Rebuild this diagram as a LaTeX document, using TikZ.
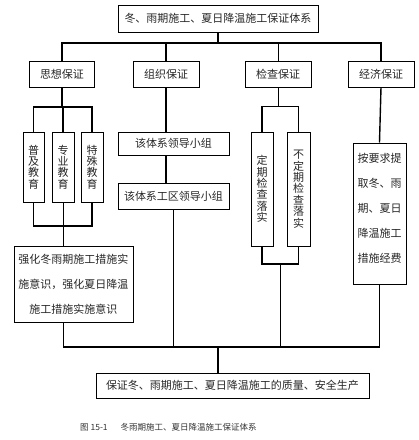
\documentclass[tikz,border=0pt]{standalone}
\usepackage{fontspec}
\setmainfont{Noto Sans CJK SC}
\usetikzlibrary{calc}
\begin{document}
\begin{tikzpicture}[x=1pt,y=-1pt,
  box/.style={draw=black,line width=1pt,inner sep=0pt,align=center,text=black!85,
    font=\fontsize{11}{11.5}\selectfont},
  vbox/.style={box,font=\fontsize{11}{11.4}\selectfont},
  mbox/.style={box,font=\fontsize{11}{25}\selectfont},
  mtxt/.style={inner sep=0pt,align=center,text=black!85,font=\fontsize{11}{25}\selectfont},
  thk/.style={line width=1.4pt},
  thn/.style={line width=0.6pt},
  captxt/.style={inner sep=0pt,anchor=west,text=black!80,font=\fontsize{8.5}{10}\selectfont}]
\useasboundingbox (0,0) rectangle (419,440);
% nodes
\node[box,minimum width=200,minimum height=27] (top) at (218,18.5) {冬、雨期施工、夏日降温施工保证体系};
\node[box,minimum width=65,minimum height=26] (s1) at (62,74) {思想保证};
\node[box,minimum width=66,minimum height=26] (s2) at (166,74) {组织保证};
\node[box,minimum width=66,minimum height=26] (s3) at (278,74) {检查保证};
\node[box,minimum width=66,minimum height=26] (s4) at (381,74) {经济保证};
\node[vbox,minimum width=21,minimum height=70] (a1) at (33.5,167) {普\\及\\教\\育};
\node[vbox,minimum width=22,minimum height=70] (a2) at (63,167) {专\\业\\教\\育};
\node[vbox,minimum width=22,minimum height=70] (a3) at (92,167) {特\\殊\\教\\育};
\node[mbox,minimum width=119,minimum height=76] (q) at (73.5,284) {强化冬雨期施工措施实\\施意识，强化夏日降温\\施工措施实施意识};
\node[box,minimum width=111,minimum height=23] (b1) at (173.5,143.5) {该体系领导小组};
\node[box,minimum width=111,minimum height=26] (b2) at (173.5,196) {该体系工区领导小组};
\node[vbox,minimum width=22,minimum height=114] (c1) at (262,189) {定\\期\\检\\查\\落\\实};
\node[vbox,minimum width=23,minimum height=114] (c2) at (298.5,189) {不\\定\\期\\检\\查\\落\\实};
\node[box,minimum width=53,minimum height=141] (d) at (379.5,213.5) {};
\node[mtxt] (dt) at (379.5,208) {按要求提\\取冬、雨\\期、夏日\\降温施工\\措施经费};
\node[box,minimum width=273,minimum height=25] (e) at (232.5,385.5) {保证冬、雨期施工、夏日降温施工的质量、安全生产};
\node[captxt] (capt) at (80,427) {图 15-1\hspace{13pt}冬雨期施工、夏日降温施工保证体系};
% bus coordinates
\coordinate (bus) at (0,43);
\coordinate (abr) at (0,107);
\coordinate (abot) at (0,226);
\coordinate (cbr) at (0,106);
\coordinate (cbot) at (0,264);
\coordinate (low) at (0,347);
\coordinate (cmid) at ($(c1.south)!0.5!(c2.south)$);
% level 1
\draw[thk] (top.south) -- (top.south |- bus);
\draw[thk] (s1.north) |- (s4.north |- bus) -- (s4.north);
\draw[thk] (s2.north) -- (s2.north |- bus);
\draw[thn] (s3.north) -- (s3.north |- bus);
% thought branch
\draw[thk] (s1.south) -- (s1.south |- abr);
\draw[thk] (a1.north) |- (a3.north |- abr) -- (a3.north);
\draw[thk] (a2.north) -- (a2.north |- abr);
\draw[thk] (a1.south) |- (a3.south |- abot) -- (a3.south);
\draw[thn] (a2.south) -- (a2.south |- q.north);
\draw[thn] (a2.south |- q.south) -- (a2.south |- low);
% organisation branch
\draw[thk] (s2.south) -- (s2.south |- b1.north);
\draw[thk] (s2.south |- b1.south) -- (s2.south |- b2.north);
\draw[thn] (b2.south) -- (b2.south |- low);
% inspection branch
\draw[thn] (s3.south) -- (s3.south |- cbr);
\draw[thk] (c1.north) -- (c1.north |- cbr);
\draw[thn] (c1.north |- cbr) -| (c2.north);
\draw[thk] (c1.south) |- (c2.south |- cbot);
\draw[thn] (c2.south) -- (c2.south |- cbot);
\draw[thn] (cmid |- cbot) -- (cmid |- low);
% economy branch
\draw[thk] (s4.south) -- (d.north);
\draw[thn] (d.south) -- (d.south |- low);
% bottom
\draw[thk] (a2.south |- low) -- (d.south |- low);
\draw[thk] (top.south |- low) -- (top.south |- e.north);
\end{tikzpicture}
\end{document}
